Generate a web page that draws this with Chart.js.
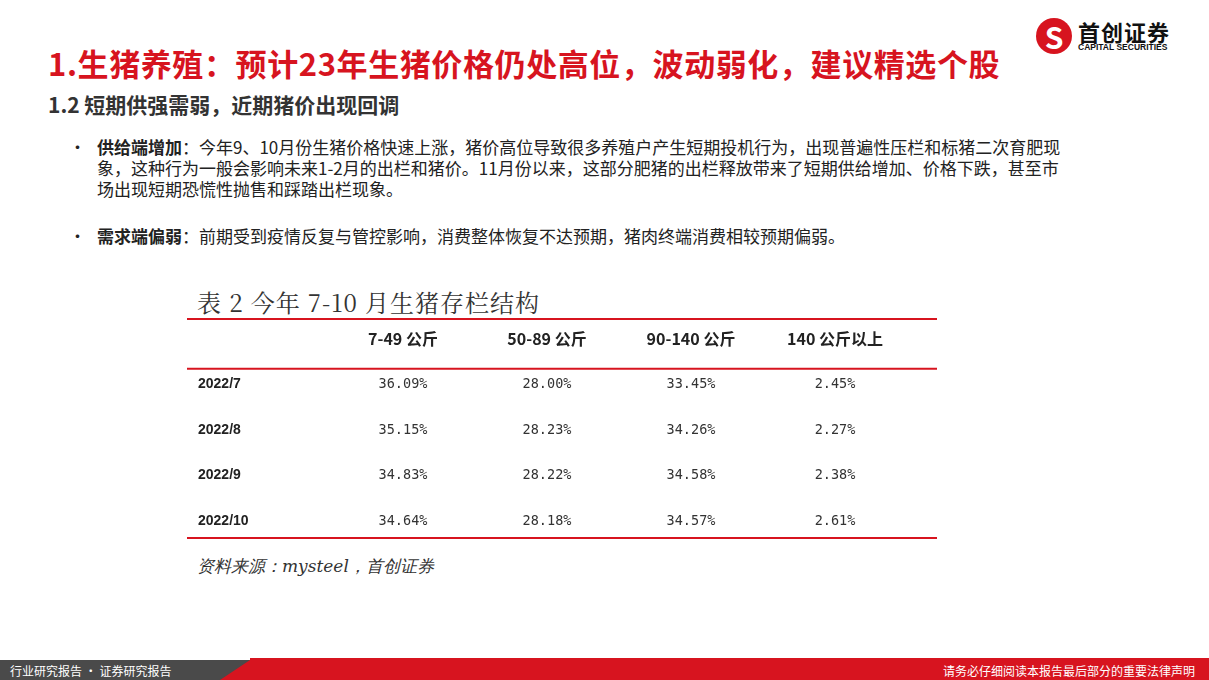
<!DOCTYPE html>
<html><head><meta charset="utf-8">
<script src="https://cdn.jsdelivr.net/npm/chart.js@4/dist/chart.umd.min.js"></script>
<style>
body{margin:0;width:1209px;height:680px;position:relative;overflow:hidden;background:#fff;font-family:"Noto Sans CJK SC","Noto Sans",sans-serif;}
.abs{position:absolute;}
#title{left:48px;top:40px;font-size:31px;font-weight:bold;color:#d7141f;letter-spacing:0.6px;}
#sub{left:48px;top:89px;font-size:21px;font-weight:bold;color:#333;}
.bul{left:97px;font-size:17px;color:#222;line-height:21px;width:1090px;white-space:nowrap;}
.dot{position:absolute;left:-28px;top:0;}
#footL{left:0;top:660px;width:250px;height:20px;background:#4a4a4a;}
#footR{left:220px;top:660px;width:989px;height:20px;background:#d7141f;clip-path:polygon(30px 0,100% 0,100% 100%,0 100%);}
#redline{left:250px;top:658px;width:959px;height:2px;background:#d7141f;}
.ft{color:#fff;font-size:12px;top:662px;}
</style></head><body>
<div class="abs" id="title">1.生猪养殖：预计23年生猪价格仍处高位，波动弱化，建议精选个股</div>
<div class="abs" id="sub">1.2 短期供强需弱，近期猪价出现回调</div>
<div class="abs bul" style="top:136px"><span class="dot">•</span><b>供给端增加</b>：今年9、10月份生猪价格快速上涨，猪价高位导致很多养殖户产生短期投机行为，出现普遍性压栏和标猪二次育肥现<br>象，这种行为一般会影响未来1-2月的出栏和猪价。11月份以来，这部分肥猪的出栏释放带来了短期供给增加、价格下跌，甚至市<br>场出现短期恐慌性抛售和踩踏出栏现象。</div>
<div class="abs bul" style="top:225px"><span class="dot">•</span><b>需求端偏弱</b>：前期受到疫情反复与管控影响，消费整体恢复不达预期，猪肉终端消费相较预期偏弱。</div>
<div class="abs" style="left:1036px;top:18px;width:36px;height:36px;border-radius:50%;background:#d7141f;color:#fff;font-size:30px;font-weight:bold;text-align:center;line-height:36px;">S</div>
<div class="abs" style="left:1078px;top:15px;font-size:22px;font-weight:bold;color:#111;letter-spacing:1px;">首创证券</div>
<div class="abs" style="left:1078px;top:42px;font-size:8.5px;font-weight:bold;color:#111;font-family:'Liberation Sans';">CAPITAL SECURITIES</div>
<div class="abs" style="left:197px;top:284px;font-size:24px;color:#333;letter-spacing:1px;font-family:'Noto Serif CJK SC','DejaVu Serif',serif;">表 2 今年 7-10 月生猪存栏结构</div>
<div class="abs" style="left:197px;top:555px;font-size:17px;color:#333;font-style:italic;font-family:'DejaVu Serif',serif;">资料来源：mysteel，首创证券</div>
<div class="abs" style="left:187px;top:316px;width:750px;height:240px;"><canvas id="c"></canvas></div>
<div class="abs" id="redline"></div>
<div class="abs" id="footL"></div>
<div class="abs" id="footR"></div>
<div class="abs ft" style="left:10px">行业研究报告 · 证券研究报告</div>
<div class="abs ft" style="right:14px">请务必仔细阅读本报告最后部分的重要法律声明</div>
<script>
const columns = ['7-49 公斤','50-89 公斤','90-140 公斤','140 公斤以上'];
const months = ['2022/7','2022/8','2022/9','2022/10'];
const s7_49 = [36.09,35.15,34.83,34.64];
const s50_89 = [28.00,28.23,28.22,28.18];
const s90_140 = [33.45,34.26,34.58,34.57];
const s140 = [2.45,2.27,2.38,2.61];
const series=[s7_49,s50_89,s90_140,s140];
const xLabels=['',...columns];
const yLabels=['',...months];
const datasets=series.map((vals,ci)=>({data:vals.map((v,ri)=>({x:columns[ci],y:months[ri],v})),pointRadius:0}));
const tablePlugin={id:'tbl',afterDraw(ch){
  const c=ch.ctx,xs=ch.scales.x,ys=ch.scales.y,a=ch.chartArea;
  const yH=ys.getPixelForValue(0);
  c.save();
  c.strokeStyle='#d7141f';c.lineWidth=2;
  [a.top+3,yH+30,a.bottom-6].forEach(y=>{c.beginPath();c.moveTo(0,y);c.lineTo(ch.width,y);c.stroke();});
  c.fillStyle='#222';c.textBaseline='middle';
  c.font='bold 16px "Noto Sans CJK SC"';c.textAlign='center';
  columns.forEach(col=>c.fillText(col,xs.getPixelForValue(xLabels.indexOf(col)),yH));
  c.font='bold 14px "Liberation Sans"';c.textAlign='left';
  months.forEach(m=>c.fillText(m,11,ys.getPixelForValue(yLabels.indexOf(m))));
  c.font='13.5px "DejaVu Sans Mono"';c.textAlign='center';c.fillStyle='#333';
  ch.data.datasets.forEach((ds,i)=>{const meta=ch.getDatasetMeta(i);
    meta.data.forEach((pt,j)=>c.fillText(ds.data[j].v.toFixed(2)+'%',pt.x,pt.y));});
  c.restore();
}};
new Chart(document.getElementById('c'),{type:'scatter',data:{datasets},plugins:[tablePlugin],
 options:{responsive:true,maintainAspectRatio:false,animation:false,layout:{padding:{top:0,bottom:12,right:30}},
 plugins:{legend:{display:false},tooltip:{enabled:false}},
 scales:{x:{type:'category',labels:xLabels,offset:true,display:false},
         y:{type:'category',labels:yLabels,offset:true,display:false}}}});
</script>
</body></html>
